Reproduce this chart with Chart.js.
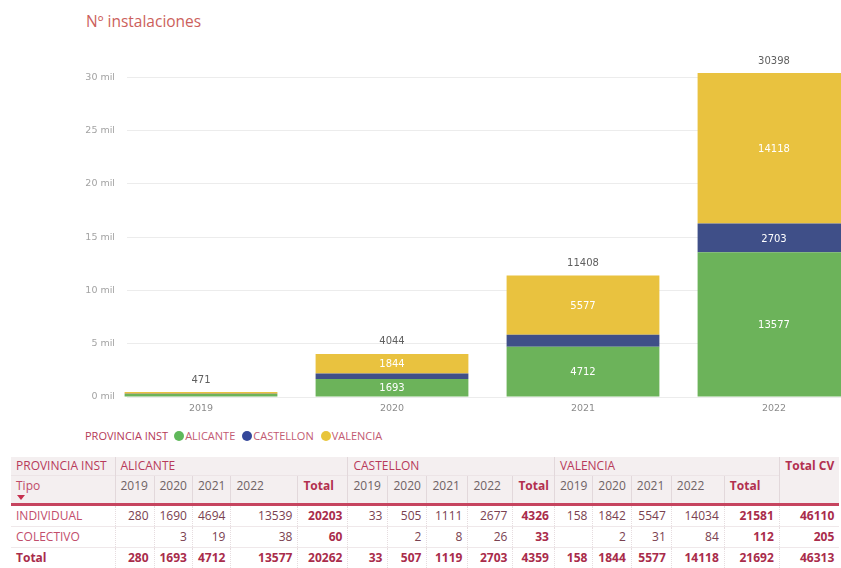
<!DOCTYPE html>
<html lang="es">
<head>
<meta charset="utf-8">
<script src="https://cdn.jsdelivr.net/npm/chart.js@4/dist/chart.umd.min.js"></script>
<style>
  body { margin: 0; width: 841px; height: 568px; overflow: hidden; background: #fff; position: relative; font-family: "Open Sans", sans-serif; }
  #titulo { position: absolute; left: 86px; top: 10px; font-size: 15.5px; color: #cc5f5c; }
  #miGrafica { position: absolute; left: 0; top: 0; }
  #leyenda { position: absolute; left: 85px; top: 428px; font-size: 11px; color: #c25a72; white-space: nowrap; }
  #leyenda .tit { color: #b53a58; margin-right: 6px; }
  #leyenda .item { margin-right: 7px; }
  #leyenda .dot { display: inline-block; width: 10px; height: 10px; border-radius: 50%; vertical-align: -1px; margin-right: 1px; }
  #tabla { position: absolute; left: 11px; top: 457px; border-collapse: collapse; table-layout: fixed; font-size: 12px; }
  #tabla th, #tabla td { padding: 0 5px; white-space: nowrap; overflow: hidden; }
  #tabla thead th { background: #f4eff0; font-weight: normal; text-align: left; color: #b83a5a; }
  #tabla .fila1 th { height: 18px; line-height: 18px; border-left: 1px solid #e2d8db; }
  #tabla .fila2 th { height: 27px; line-height: 20px; vertical-align: top; color: #6f6264; border-left: 1px solid #e2d8db; border-top: 1px solid #ece4e6; border-bottom: 3px solid #c6445f; }
  #tabla .fila2 th.tot, #tabla .fila1 th.totalcv { font-weight: bold; color: #b2304f; }
  #tabla .fila1 th.totalcv { text-align: right; vertical-align: top; border-bottom: 3px solid #c6445f; }
  #tabla .fila2 th.tipo { color: #c04a68; position: relative; }
  #tabla .flecha { position: absolute; left: 6px; top: 19px; width: 0; height: 0; border-left: 4px solid transparent; border-right: 4px solid transparent; border-top: 5px solid #c6304f; }
  #tabla tbody td { height: 20px; line-height: 20px; text-align: right; color: #7a4150; border-left: 1px dotted #e6dcdf; border-bottom: 1px solid #efe8ea; }
  #tabla tbody td.tipo { text-align: left; color: #c24d6b; border-left: none; }
  #tabla tbody td.tot { font-weight: bold; color: #a92c4b; }
  #tabla tbody tr.total td { font-weight: bold; color: #a92c4b; border-bottom: none; }
  #tabla .fila1 th:first-child, #tabla .fila2 th:first-child { border-left: none; }
</style>
</head>
<body>
<div id="titulo">Nº instalaciones</div>
<canvas id="miGrafica" width="841" height="420"></canvas>
<div id="leyenda"></div>
<table id="tabla"></table>

<script>
// valores de la grafica (fila Total de la tabla)
const anios = [2019, 2020, 2021, 2022]
const alicante = [280, 1693, 4712, 13577]
const castellon = [33, 507, 1119, 2703]
const valencia = [158, 1844, 5577, 14118]
const ticksY = [0, 5000, 10000, 15000, 20000, 25000, 30000]

const provincias = ["ALICANTE", "CASTELLON", "VALENCIA"]
const colores = ["#6cb35a", "#3f4f88", "#e9c23f"]
const coloresLeyenda = ["#5fb85a", "#34479a", "#e8c53a"]

// tabla: 2019, 2020, 2021, 2022, Total por provincia
const tipos = ["INDIVIDUAL", "COLECTIVO", "Total"]
const tablaAlicante = [
  [280, 1690, 4694, 13539, 20203],
  [null, 3, 19, 38, 60],
  [280, 1693, 4712, 13577, 20262]
]
const tablaCastellon = [
  [33, 505, 1111, 2677, 4326],
  [null, 2, 8, 26, 33],
  [33, 507, 1119, 2703, 4359]
]
const tablaValencia = [
  [158, 1842, 5547, 14034, 21581],
  [null, 2, 31, 84, 112],
  [158, 1844, 5577, 14118, 21692]
]
const totalCV = [46110, 205, 46313]

const anchosColumnas = [104, 39, 33, 29, 67, 50, 40, 39, 41, 45, 39, 36, 37, 40, 53, 55, 60]

const series = [alicante, castellon, valencia]

const etiquetasPlugin = {
  id: "etiquetas",
  afterDatasetsDraw(chart) {
    const ctx = chart.ctx
    ctx.save()
    ctx.textAlign = "center"
    ctx.textBaseline = "middle"
    ctx.font = '10px "DejaVu Sans"'
    chart.data.datasets.forEach((ds, i) => {
      chart.getDatasetMeta(i).data.forEach((bar, j) => {
        const v = ds.data[j].y
        if (v < 1500) return
        ctx.fillStyle = "#ffffff"
        ctx.fillText(v, bar.x, (bar.y + bar.base) / 2 + 1)
      })
    })
    const ultimo = chart.getDatasetMeta(chart.data.datasets.length - 1)
    ultimo.data.forEach((bar, j) => {
      const total = series.reduce((s, serie) => s + serie[j], 0)
      ctx.fillStyle = "#5f5f5f"
      ctx.fillText(total, bar.x, bar.y - 12)
    })
    ctx.restore()
  }
}

const ctx = document.getElementById("miGrafica").getContext("2d")
new Chart(ctx, {
  type: "bar",
  data: {
    datasets: provincias.map((nombre, i) => ({
      label: nombre,
      data: series[i].map((v, j) => ({ x: anios[j], y: v })),
      backgroundColor: colores[i],
      borderWidth: 0,
      clip: false,
      barPercentage: 0.8,
      categoryPercentage: 1
    }))
  },
  options: {
    responsive: false,
    animation: false,
    layout: { padding: { top: 56, bottom: 3, left: 0, right: 0 } },
    plugins: {
      legend: { display: false },
      tooltip: { enabled: false }
    },
    scales: {
      x: {
        type: "linear",
        stacked: true,
        offset: false,
        bounds: "data",
        min: 2018.6126,
        max: 2022.3508,
        grid: { display: false, drawTicks: false, offset: false },
        border: { display: false },
        ticks: {
          autoSkip: false,
          padding: 6,
          color: "#8c8c8c",
          font: { family: "DejaVu Sans", size: 9.5 },
          callback: v => String(v)
        },
        afterBuildTicks(scale) {
          scale.ticks = anios.map(a => ({ value: a }))
        },
        afterFit(scale) { scale.height = 20 }
      },
      y: {
        stacked: true,
        min: 0,
        max: 32000,
        grid: { color: "#ececec", drawTicks: false },
        border: { display: false },
        ticks: {
          autoSkip: false,
          padding: 12,
          color: "#a3a3a3",
          font: { family: "DejaVu Sans", size: 9.5 },
          callback: v => (v / 1000) + " mil"
        },
        afterBuildTicks(scale) {
          scale.ticks = ticksY.map(t => ({ value: t }))
        },
        afterFit(scale) { scale.width = 127 }
      }
    }
  },
  plugins: [etiquetasPlugin]
})

// leyenda
const leyenda = document.getElementById("leyenda")
leyenda.innerHTML = `<span class="tit">PROVINCIA INST</span>` + provincias.map((p, i) =>
  `<span class="item"><span class="dot" style="background:${coloresLeyenda[i]}"></span>${p}</span>`
).join("")

// tabla
function cargarTabla() {
  const tabla = document.getElementById("tabla")
  let html = "<colgroup>" + anchosColumnas.map(w => `<col style="width:${w}px">`).join("") + "</colgroup>"
  html += `<thead><tr class="fila1"><th>PROVINCIA INST</th>`
  provincias.forEach(p => { html += `<th colspan="5">${p}</th>` })
  html += `<th rowspan="2" class="totalcv">Total CV</th></tr>`
  html += `<tr class="fila2"><th class="tipo">Tipo<span class="flecha"></span></th>`
  provincias.forEach(() => {
    anios.forEach(a => { html += `<th>${a}</th>` })
    html += `<th class="tot">Total</th>`
  })
  html += `</tr></thead><tbody>`
  const bloques = [tablaAlicante, tablaCastellon, tablaValencia]
  tipos.forEach((tipo, f) => {
    html += `<tr class="${f === 2 ? "total" : ""}"><td class="tipo">${tipo}</td>`
    bloques.forEach(b => {
      b[f].forEach((v, c) => {
        html += `<td class="${c === 4 ? "tot" : ""}">${v === null ? "" : v}</td>`
      })
    })
    html += `<td class="tot">${totalCV[f]}</td></tr>`
  })
  html += "</tbody>"
  tabla.innerHTML = html
}

cargarTabla()
</script>
</body>
</html>
